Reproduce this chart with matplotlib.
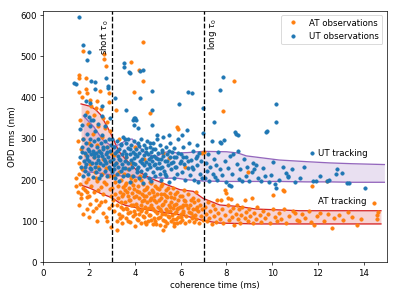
import numpy as np
import matplotlib
matplotlib.use("Agg")
import matplotlib.pyplot as plt

# AT observations (orange)
at_left = [(1.74, 512), (2.65, 505), (2.65, 493), (2.75, 475), (1.54, 453), (1.56, 447),
           (1.88, 447), (1.54, 412), (1.88, 421), (1.93, 411), (2.47, 415), (2.89, 410),
           (2.04, 394), (2.36, 392), (2.89, 388), (1.7, 400), (2.1, 380), (2.3, 375),
           (2.5, 372), (1.9, 365), (2.2, 358), (2.6, 350), (2.8, 340), (1.6, 345),
           (1.95, 335), (2.4, 330), (2.7, 325), (2.9, 318), (2.15, 310), (2.55, 305),
           (1.75, 300), (1.5, 293), (2.0, 290), (2.35, 285), (2.8, 280), (1.65, 275),
           (2.45, 270), (2.95, 265), (1.85, 260), (2.2, 255), (2.6, 250), (2.9, 245),
           (1.55, 240), (2.05, 238), (2.4, 232), (2.75, 228), (1.7, 225), (2.25, 220),
           (2.55, 215), (2.85, 210), (1.45, 205), (1.95, 203), (2.35, 198), (2.65, 195),
           (1.6, 190), (2.1, 186), (2.5, 182), (2.9, 178), (1.42, 184), (1.8, 175),
           (2.2, 170), (2.6, 166), (2.95, 160), (1.65, 165), (1.93, 159), (2.3, 152),
           (2.7, 148), (1.63, 157), (2.05, 142), (2.45, 138), (2.85, 132), (2.29, 131),
           (1.9, 128), (2.6, 120), (2.0, 111), (2.72, 111), (2.94, 86), (2.35, 100),
           (1.55, 138), (1.75, 118), (2.15, 125), (2.8, 100), (2.5, 145), (1.5, 170),
           (2.98, 140), (2.4, 175), (2.75, 190), (1.58, 215), (1.75, 180), (1.9, 170),
           (2.0, 160), (1.85, 195), (2.3, 205)]
at_mid = [(3.02, 180), (3.05, 150), (3.08, 210), (3.1, 125), (3.12, 195), (3.15, 165),
          (3.18, 240), (3.2, 140), (3.22, 100), (3.23, 78), (3.25, 185), (3.28, 155),
          (3.3, 220), (3.32, 118), (3.35, 170), (3.38, 135), (3.4, 200), (3.42, 95),
          (3.45, 160), (3.48, 182), (3.5, 128), (3.18, 370), (3.3, 300), (3.1, 260),
          (3.52, 215), (3.55, 145), (3.58, 175), (3.6, 108), (3.62, 192), (3.65, 130),
          (3.68, 160), (3.7, 225), (3.72, 120), (3.75, 180), (3.78, 98), (3.8, 150),
          (3.82, 205), (3.85, 138), (3.88, 168), (3.9, 112), (3.92, 188), (3.95, 125),
          (3.98, 158), (3.6, 255), (3.85, 240), (4.02, 200), (4.05, 142), (4.08, 172),
          (4.1, 105), (4.12, 130), (4.15, 185), (4.18, 155), (4.2, 118), (4.22, 210),
          (4.25, 140), (4.28, 95), (4.3, 165), (4.32, 128), (4.35, 190), (4.38, 150),
          (4.4, 110), (4.42, 175), (4.45, 135), (4.48, 160), (4.0, 280), (4.4, 250),
          (4.5, 122), (4.52, 182), (4.55, 145), (4.58, 100), (4.6, 168), (4.62, 132),
          (4.65, 195), (4.68, 115), (4.7, 155), (4.72, 140), (4.75, 175), (4.78, 92),
          (4.8, 128), (4.82, 160), (4.85, 108), (4.88, 185), (4.9, 100), (4.92, 145),
          (4.95, 120), (4.98, 165), (4.64, 363), (5.02, 135), (5.05, 178), (5.08, 110),
          (5.1, 91), (5.12, 155), (5.15, 125), (5.18, 190), (5.2, 140), (5.22, 102),
          (5.25, 78), (5.28, 165), (5.3, 118), (5.32, 148), (5.35, 130), (5.38, 175),
          (5.4, 95), (5.42, 158), (5.45, 112), (5.48, 140), (5.25, 265), (5.5, 252),
          (5.52, 125), (5.55, 168), (5.58, 100), (5.6, 145), (5.62, 115), (5.65, 180),
          (5.68, 132), (5.7, 95), (5.72, 155), (5.75, 120), (5.78, 142), (5.8, 105),
          (5.82, 170), (5.85, 128), (5.88, 110), (5.9, 150), (5.95, 98), (5.98, 135),
          (5.87, 324), (5.83, 329), (6.02, 118), (6.05, 160), (6.08, 102), (6.1, 140),
          (6.12, 125), (6.15, 175), (6.18, 95), (6.2, 148), (6.25, 112), (6.3, 132),
          (6.32, 165), (6.35, 100), (6.4, 140), (6.45, 120), (6.48, 108), (6.2, 230),
          (6.52, 155), (6.55, 128), (6.58, 98), (6.6, 145), (6.62, 115), (6.65, 170),
          (6.68, 105), (6.7, 135), (6.75, 125), (6.77, 151), (6.8, 95), (6.85, 140),
          (6.88, 112), (6.92, 265), (6.95, 130), (6.98, 102), (7.0, 268), (4.36, 534),
          (3.85, 486), (4.17, 467), (4.36, 439), (3.97, 414)]
at_core = [(3.4, 145), (3.45, 112), (3.55, 188), (3.6, 132), (3.65, 170), (3.7, 100),
           (3.75, 150), (3.8, 122), (3.85, 195), (3.9, 140), (3.95, 178), (4.0, 118),
           (4.05, 160), (4.1, 135), (4.15, 102), (4.2, 170), (4.25, 125), (4.3, 148),
           (4.35, 112), (4.4, 160), (4.45, 98), (4.5, 178), (4.55, 130), (4.6, 115),
           (4.65, 150), (4.7, 102), (4.75, 132), (4.8, 170), (4.85, 150), (4.9, 125),
           (4.95, 180), (5.0, 108), (5.05, 150), (5.1, 130), (5.15, 165), (5.2, 118),
           (5.25, 142), (5.3, 100), (5.35, 160), (5.4, 125), (5.45, 180), (5.5, 110),
           (5.55, 135), (5.6, 158), (5.65, 105), (5.7, 140), (5.75, 165), (5.8, 122),
           (5.85, 95), (5.9, 132), (5.95, 160), (6.0, 110), (6.05, 135), (6.1, 120),
           (6.15, 150), (6.25, 138), (6.35, 122), (6.45, 150), (6.55, 112), (6.65, 130),
           (3.35, 108), (3.5, 165), (4.02, 88), (4.48, 92), (4.92, 92), (5.32, 88),
           (5.72, 88), (3.88, 210), (4.28, 200), (4.72, 192), (5.12, 186)]
at_right = [(7.05, 135), (7.1, 118), (7.15, 100), (7.2, 145), (7.25, 108), (7.3, 125),
            (7.35, 92), (7.4, 140), (7.45, 113), (7.5, 130), (7.55, 98), (7.6, 150),
            (7.65, 120), (7.7, 105), (7.78, 151), (7.8, 128), (7.85, 95), (7.93, 176),
            (7.99, 168), (7.95, 115), (8.05, 138), (8.07, 155), (8.1, 102), (8.15, 125),
            (8.21, 153), (8.25, 110), (8.3, 132), (8.35, 90), (8.4, 118), (8.45, 140),
            (8.5, 104), (8.55, 128), (8.6, 96), (8.65, 115), (8.7, 135), (8.79, 150),
            (8.8, 108), (8.85, 122), (8.94, 219), (8.95, 100), (9.0, 130), (9.05, 112),
            (9.13, 155), (9.15, 95), (9.2, 120), (9.3, 105), (9.35, 135), (9.45, 115),
            (9.5, 98), (9.6, 125), (9.7, 108), (9.8, 118), (9.9, 95), (10.02, 163),
            (10.05, 128), (10.1, 110), (10.2, 100), (10.3, 120), (10.45, 176), (10.4, 105),
            (10.5, 130), (10.53, 173), (10.6, 95), (10.75, 112), (10.9, 125), (10.98, 119),
            (11.1, 102), (11.18, 99), (11.3, 118), (11.45, 108), (11.6, 125), (11.7, 97),
            (11.73, 185), (11.83, 91), (11.95, 112), (12.1, 120), (12.25, 100), (12.4, 198),
            (12.45, 118), (12.62, 83), (12.7, 108), (12.9, 115), (13.1, 102), (13.3, 122),
            (13.5, 110), (13.71, 91), (13.9, 105), (14.45, 143), (14.59, 115),
            (14.59, 106), (14.62, 122), (8.35, 439), (7.85, 366)]

# UT observations (blue)
ut_left = [(1.55, 596), (1.74, 528), (2.0, 509), (1.93, 491), (1.35, 435), (1.42, 432),
           (2.1, 439), (2.24, 436), (2.26, 421), (2.82, 428), (2.82, 422), (2.75, 447),
           (1.85, 390), (2.05, 387), (2.58, 378), (1.6, 255), (1.65, 230), (1.7, 280),
           (1.72, 210), (1.75, 300), (1.78, 245), (1.8, 265), (1.82, 222), (1.85, 290),
           (1.88, 238), (1.9, 312), (1.92, 258), (1.95, 215), (1.97, 275), (2.0, 245),
           (2.02, 300), (2.05, 228), (2.08, 262), (2.1, 285), (2.12, 240), (2.15, 208),
           (2.18, 270), (2.2, 255), (2.22, 295), (2.25, 232), (2.28, 318), (2.3, 265),
           (2.32, 218), (2.35, 280), (2.38, 248), (2.4, 300), (2.42, 225), (2.45, 270),
           (2.48, 240), (2.5, 290), (2.52, 212), (2.55, 258), (2.58, 308), (2.6, 235),
           (2.62, 275), (2.65, 250), (2.68, 222), (2.7, 295), (2.72, 262), (2.75, 240),
           (2.78, 280), (2.8, 210), (2.82, 255), (2.85, 300), (2.88, 230), (2.9, 270),
           (2.92, 245), (2.95, 285), (2.98, 220), (1.71, 333), (1.8, 358), (2.0, 352),
           (2.07, 345), (2.15, 345), (2.4, 335), (2.7, 330), (2.9, 350), (1.62, 322),
           (2.55, 355), (2.05, 330), (1.9, 250), (2.0, 270), (2.1, 225), (2.2, 262),
           (2.3, 240), (2.4, 258), (2.5, 265), (2.6, 280), (2.7, 245), (2.8, 268),
           (2.9, 225), (1.7, 268), (1.8, 230), (2.45, 205)]
ut_mid = [(3.12, 398), (3.51, 483), (3.51, 473), (3.76, 462), (3.8, 458), (4.24, 465),
          (4.36, 466), (4.24, 398), (4.77, 416), (6.33, 414), (6.5, 410), (5.93, 384),
          (4.76, 370), (3.62, 370), (4.02, 350), (3.98, 350), (4.05, 346), (3.94, 344),
          (4.75, 334), (4.14, 325), (6.98, 374), (3.95, 333), (6.27, 321), (6.98, 313),
          (6.05, 309), (5.47, 309), (4.96, 309), (6.7, 285), (4.67, 289),
          (3.05, 250), (3.08, 225), (3.1, 280), (3.12, 205), (3.15, 265), (3.18, 240),
          (3.2, 295), (3.22, 215), (3.25, 258), (3.28, 232), (3.3, 275), (3.32, 198),
          (3.35, 248), (3.38, 288), (3.4, 222), (3.42, 262), (3.45, 238), (3.48, 305),
          (3.5, 210), (3.52, 270), (3.55, 245), (3.58, 228), (3.6, 290), (3.62, 255),
          (3.65, 212), (3.68, 278), (3.7, 240), (3.72, 300), (3.75, 225), (3.78, 262),
          (3.8, 195), (3.82, 248), (3.85, 285), (3.88, 232), (3.9, 268), (3.92, 210),
          (3.95, 252), (3.98, 295), (4.02, 238), (4.05, 275), (4.08, 218), (4.1, 258),
          (4.12, 290), (4.15, 230), (4.18, 205), (4.2, 265), (4.22, 245), (4.25, 300),
          (4.28, 222), (4.3, 272), (4.32, 250), (4.35, 192), (4.38, 285), (4.4, 235),
          (4.42, 260), (4.45, 215), (4.48, 278), (4.5, 242), (4.52, 295), (4.55, 225),
          (4.58, 262), (4.6, 205), (4.62, 250), (4.65, 280), (4.68, 232), (4.7, 268),
          (4.72, 198), (4.75, 245), (4.78, 290), (4.8, 220), (4.82, 258), (4.85, 235),
          (4.88, 275), (4.9, 210), (4.92, 252), (4.95, 300), (4.98, 228), (5.02, 265),
          (5.05, 240), (5.08, 215), (5.1, 285), (5.12, 250), (5.15, 200), (5.18, 272),
          (5.2, 230), (5.22, 258), (5.25, 305), (5.28, 222), (5.3, 245), (5.35, 280),
          (5.38, 210), (5.4, 262), (5.45, 235), (5.48, 195), (5.52, 255), (5.55, 290),
          (5.58, 225), (5.62, 268), (5.65, 242), (5.7, 205), (5.72, 278), (5.75, 232),
          (5.8, 255), (5.85, 215), (5.9, 298), (5.95, 240), (6.02, 262), (6.05, 220),
          (6.1, 280), (6.15, 238), (6.2, 200), (6.25, 255), (6.3, 228), (6.35, 290),
          (6.4, 212), (6.45, 248), (6.52, 270), (6.55, 225), (6.6, 200), (6.65, 252),
          (6.7, 235), (6.75, 195), (6.8, 265), (6.85, 215), (6.9, 245), (6.95, 205),
          (3.1, 235), (3.2, 270), (3.3, 250), (3.4, 285), (3.5, 228), (3.6, 262),
          (3.7, 212), (3.8, 275), (3.9, 240), (4.0, 262), (4.1, 225), (4.2, 282),
          (4.3, 240), (4.4, 210), (4.5, 268), (4.6, 238), (4.7, 255), (4.8, 275),
          (4.9, 238), (5.0, 250), (5.1, 228), (5.2, 268), (5.3, 215), (5.4, 245),
          (5.5, 270), (5.6, 240), (5.7, 255), (5.8, 232), (5.9, 265), (6.0, 245),
          (6.1, 255), (6.3, 245), (6.5, 232), (6.7, 258), (3.0, 300), (3.55, 300)]
ut_right = [(7.05, 205), (7.1, 240), (7.15, 222), (7.2, 262), (7.25, 198), (7.3, 230),
            (7.35, 293), (7.4, 215), (7.45, 250), (7.45, 339), (7.5, 208), (7.55, 235),
            (7.6, 200), (7.65, 268), (7.7, 225), (7.71, 291), (7.74, 417), (7.75, 290),
            (7.8, 212), (7.86, 449), (7.9, 297), (7.95, 245), (8.0, 194), (8.05, 228),
            (8.1, 188), (8.15, 258), (8.2, 184), (8.25, 215), (8.29, 262), (8.36, 315),
            (8.43, 312), (8.45, 238), (8.5, 309), (8.5, 269), (8.55, 203), (8.6, 225),
            (8.7, 198), (8.75, 250), (8.85, 210), (8.9, 232), (9.0, 196), (9.1, 218),
            (9.15, 240), (9.22, 225), (9.3, 236), (9.4, 205), (9.5, 197), (9.59, 228),
            (9.7, 210), (9.73, 317), (9.79, 318), (9.85, 195), (9.95, 212), (10.05, 242),
            (10.1, 190), (10.17, 180), (10.18, 384), (10.18, 339), (10.3, 200),
            (10.45, 230), (10.6, 216), (10.7, 210), (10.7, 208), (10.85, 225), (11.0, 195),
            (11.2, 205), (11.4, 232), (11.76, 196), (11.9, 196), (12.1, 210), (12.4, 196),
            (12.47, 200), (12.77, 214), (12.85, 225), (13.05, 216), (13.28, 193),
            (13.35, 192), (14.07, 180), (11.73, 264)]

# tracking bands
at_trk_x = [1.65, 2.07, 2.29, 2.5, 2.79, 3.01, 3.3, 3.59, 4.1, 4.67, 5.4, 5.97, 6.55,
            6.98, 7.71, 8.58, 9.3, 10.3, 11.2, 12.5, 13.5, 14.75]
at_trk_hi = [384, 378, 370, 358, 329, 305, 269, 250, 222, 204, 188, 176, 172, 155, 139,
             135, 129, 127, 125, 125, 125, 125]
at_trk_lo = [187, 179, 173, 167, 161, 156, 145, 138, 132, 126, 120, 115, 108, 101, 95,
             94, 93, 93, 93, 93, 93, 93]
ut_trk_x = [1.75, 2.2, 2.6, 3.0, 3.3, 3.66, 3.88, 4.24, 4.53, 4.96, 5.25, 5.54, 5.83,
            6.3, 7.0, 8.0, 8.5, 8.87, 9.44, 10.3, 11.5, 12.5, 13.5, 14.9]
ut_trk_hi = [355, 329, 297, 281, 285, 297, 299, 277, 261, 257, 266, 269, 265, 266, 269,
             268, 265, 258, 254, 248, 244, 241, 239, 237]
ut_trk_lo = [220, 218, 215, 212, 210, 208, 207, 206, 205, 205, 204, 204, 204, 200, 197,
             196, 196, 196, 196, 196, 195, 195, 194, 194]

at = np.array(at_left + at_mid + at_core + at_right)
ut = np.array(ut_left + ut_mid + ut_right)

fig = plt.figure(figsize=(6.4, 4.8), dpi=62.35)
ax = fig.add_axes([0.1085, 0.1227, 0.8605, 0.8405])

ax.fill_between(at_trk_x, at_trk_lo, at_trk_hi, color='C3', alpha=0.2, lw=0)
ax.plot(at_trk_x, at_trk_hi, color='C3')
ax.plot(at_trk_x, at_trk_lo, color='C3')
ax.fill_between(ut_trk_x, ut_trk_lo, ut_trk_hi, color='C4', alpha=0.2, lw=0)
ax.plot(ut_trk_x, ut_trk_hi, color='C4')
ax.plot(ut_trk_x, ut_trk_lo, color='C4')

ax.plot(at[:, 0], at[:, 1], '.', ms=7.5, color='C1', label='AT observations')
ax.plot(ut[:, 0], ut[:, 1], '.', ms=7.5, color='C0', label='UT observations')

ax.axvline(3, color='k', ls='--')
ax.axvline(7, color='k', ls='--')
ax.text(2.95, 590, r'short $\tau_0$', rotation=90, ha='right', va='top')
ax.text(7.1, 592, r'long $\tau_0$', rotation=90, ha='left', va='top')
ax.text(12.0, 265, 'UT tracking', ha='left', va='center')
ax.text(12.0, 147, 'AT tracking', ha='left', va='center')

ax.set_xlim(0, 15)
ax.set_ylim(0, 610)
ax.set_xlabel('coherence time (ms)')
ax.set_ylabel('OPD rms (nm)')
ax.legend(loc='upper right')

fig.savefig('out.png', dpi=62.35)
